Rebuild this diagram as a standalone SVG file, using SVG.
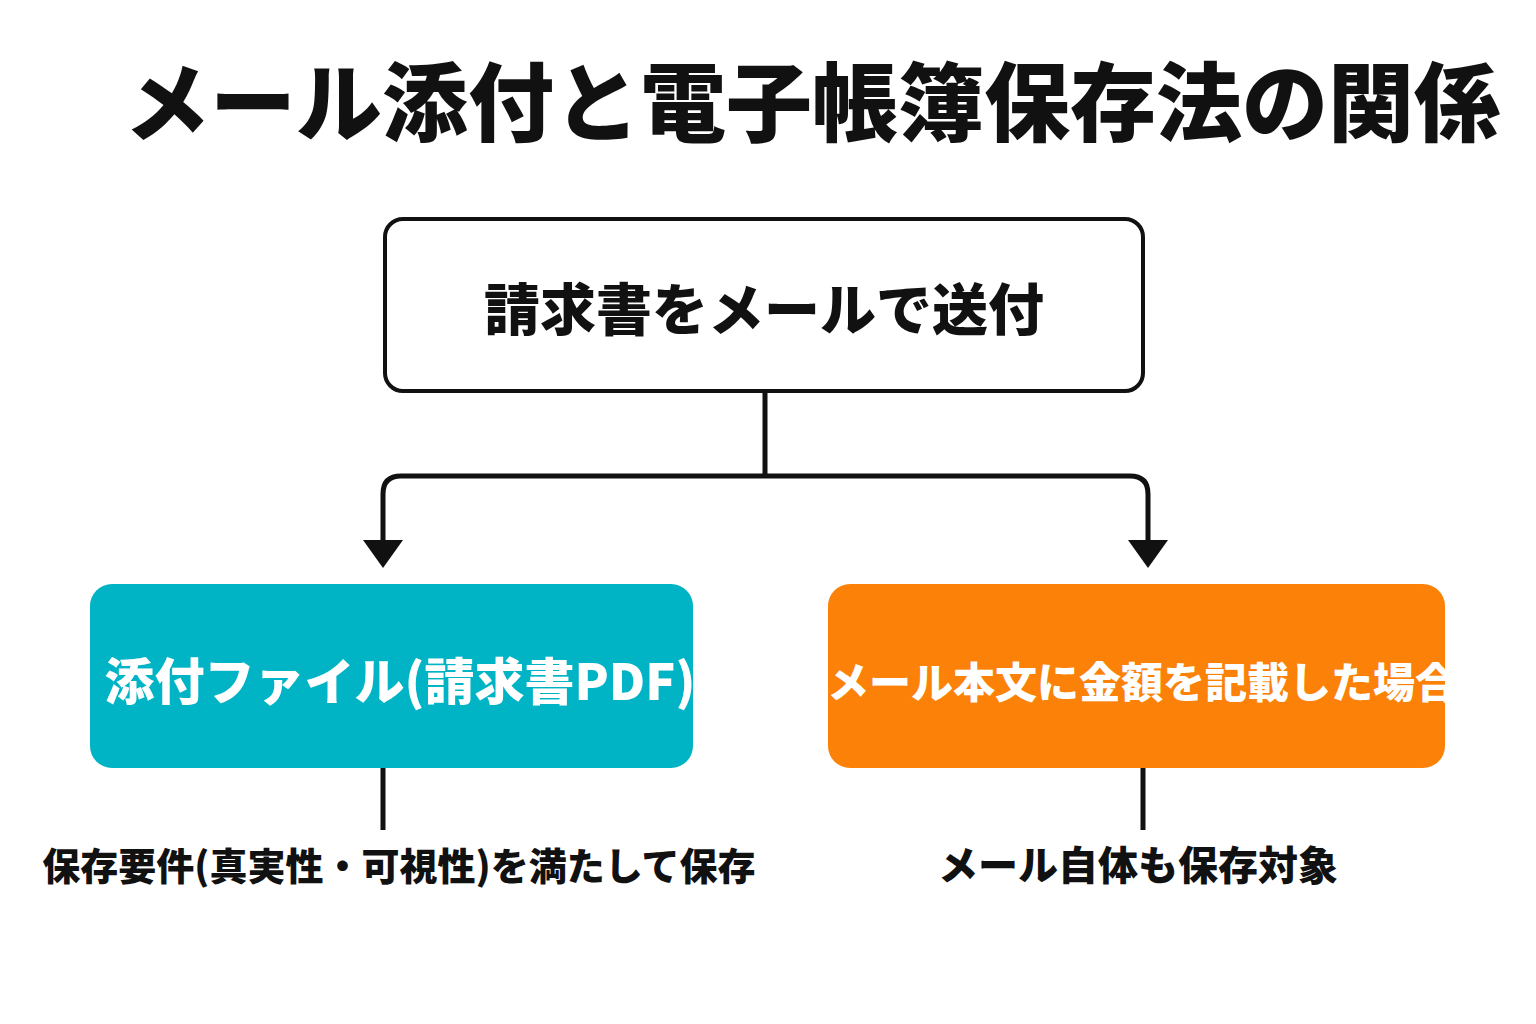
<svg xmlns="http://www.w3.org/2000/svg" width="1536" height="1024" viewBox="0 0 1536 1024">
<style>
text{font-family:"Noto Sans CJK JP","Noto Sans CJK SC",sans-serif;font-weight:900;text-anchor:middle}
.c{stroke:#111;stroke-width:5;fill:none}
</style>
<rect width="1536" height="1024" fill="#fff"/>
<text x="812" y="135" font-size="86" fill="#111">メール添付と電子帳簿保存法の関係</text>
<g id="top"><rect x="385" y="219" width="758" height="172" rx="18" fill="#fff" stroke="#111" stroke-width="4"/>
<text x="764" y="330" font-size="56" fill="#111">請求書をメールで送付</text></g>
<g id="connectors">
<path class="c" d="M765 391V476M383 545V494Q383 476 401 476H1130Q1148 476 1148 494V545"/>
<polygon points="363,540 403,540 383,568" fill="#111"/>
<polygon points="1128,540 1168,540 1148,568" fill="#111"/>
<path class="c" d="M383 768V830M1143 768V830"/>
</g>
<g id="left"><rect x="90" y="584" width="603" height="184" rx="22" fill="#00B4C6"/>
<text x="400" y="700" font-size="50" fill="#fff">添付ファイル(請求書PDF)</text></g>
<g id="right"><rect x="828" y="584" width="617" height="184" rx="22" fill="#FB8108"/>
<text x="1142" y="698" font-size="42" fill="#fff">メール本文に金額を記載した場合</text></g>
<g id="leftnote"><text x="399" y="880" font-size="38" fill="#111">保存要件(真実性・可視性)を満たして保存</text></g>
<g id="rightnote"><text x="1138" y="880" font-size="40" fill="#111">メール自体も保存対象</text></g>
</svg>
